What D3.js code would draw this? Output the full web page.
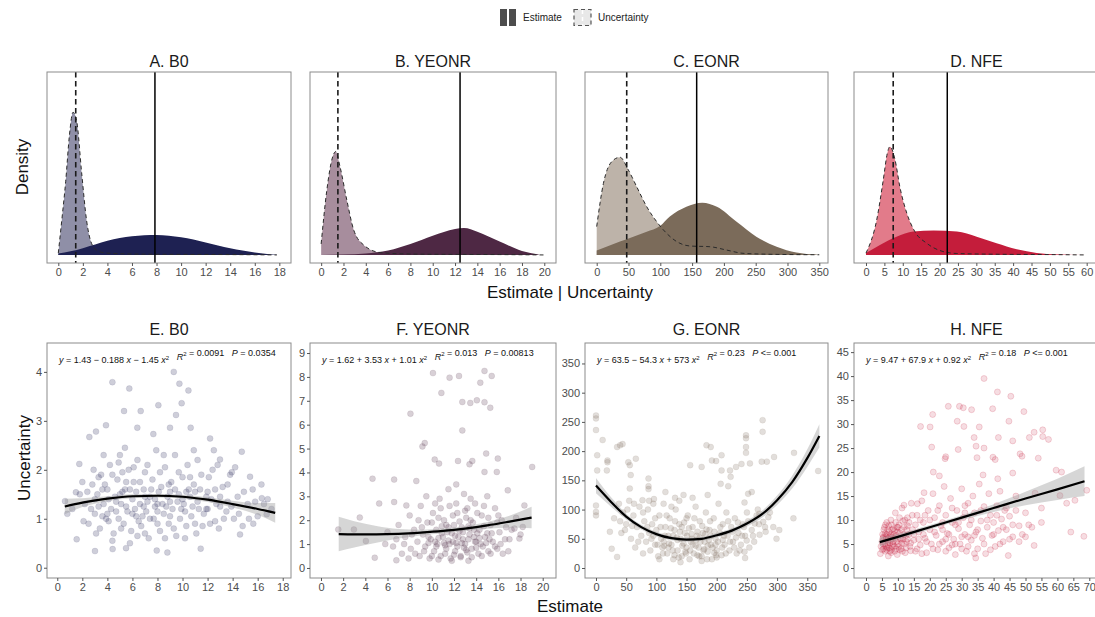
<!DOCTYPE html>
<html>
<head>
<meta charset="utf-8">
<script src="https://cdn.jsdelivr.net/npm/d3@7"></script>
<style>
  body { margin: 0; background: #fff; }
  text { font-family: "Liberation Sans", Arial, Helvetica, sans-serif; }
  .eq { white-space: pre; }
</style>
</head>
<body>
<svg id="chart" width="1095" height="617"></svg>
<script>
// ---- data ----
const titlesTop = ["A. B0", "B. YEONR", "C. EONR", "D. NFE"];
const titlesBottom = ["E. B0", "F. YEONR", "G. EONR", "H. NFE"];
const estColors = ["#1e2152", "#4e2844", "#7b6b5a", "#c41d3b"];
const uncColors = ["#8f8fa7", "#a78d9d", "#bdb3a9", "#e27b8a"];

const xTicks = [
  [0, 2, 4, 6, 8, 10, 12, 14, 16, 18],
  [0, 2, 4, 6, 8, 10, 12, 14, 16, 18, 20],
  [0, 50, 100, 150, 200, 250, 300, 350],
  [0, 5, 10, 15, 20, 25, 30, 35, 40, 45, 50, 55, 60]
];
const xTicksBottom = [
  [0, 2, 4, 6, 8, 10, 12, 14, 16, 18],
  [0, 2, 4, 6, 8, 10, 12, 14, 16, 18, 20],
  [0, 50, 100, 150, 200, 250, 300, 350],
  [0, 5, 10, 15, 20, 25, 30, 35, 40, 45, 50, 55, 60, 65, 70]
];
const yTicksBottom = [
  [0, 1, 2, 3, 4],
  [0, 1, 2, 3, 4, 5, 6, 7, 8, 9],
  [0, 50, 100, 150, 200, 250, 300, 350],
  [0, 5, 10, 15, 20, 25, 30, 35, 40, 45]
];

// density heights, relative to panel height
const estDensA = [[0,0.008],[1,0.02],[2,0.037],[3,0.057],[4,0.077],[5,0.092],[6,0.102],[7,0.108],[8,0.109],[9,0.105],[10,0.097],[11,0.084],[12,0.068],[13,0.052],[14,0.037],[15,0.024],[16,0.013],[17,0.005],[17.8,0.001]];
const uncDensA = [[0,0.01],[0.3,0.2],[0.6,0.4],[0.9,0.65],[1.2,0.78],[1.5,0.73],[1.9,0.45],[2.3,0.19],[2.8,0.05],[3.3,0.02],[4,0.01],[6,0.005],[10,0.003],[14,0.002],[17.8,0.0]];
const estDensB = [[0,0],[2,0.002],[4,0.008],[6,0.024],[8,0.06],[10,0.105],[12,0.142],[12.8,0.147],[14,0.127],[16,0.073],[18,0.022],[19.5,0.003]];
const uncDensB = [[0,0.06],[0.5,0.35],[1.0,0.53],[1.3,0.565],[1.7,0.48],[2.3,0.3],[2.9,0.14],[3.8,0.055],[5.3,0.013],[8,0.005],[12,0.003],[16,0.002],[20,0]];
const estDensC = [[0,0.024],[36.6,0.073],[78.6,0.127],[99.5,0.158],[115,0.21],[141,0.264],[166,0.286],[189,0.264],[220,0.182],[251,0.1],[283,0.045],[314,0.013],[346,0.002]];
const uncDensC = [[0,0.155],[10.5,0.39],[23.6,0.51],[36.6,0.534],[49.7,0.465],[62.9,0.373],[78.6,0.264],[94.3,0.182],[110,0.118],[125.8,0.073],[146.7,0.049],[178,0.045],[204,0.027],[230,0.009],[270,0.004],[350,0.001]];
const estDensD = [[0,0.01],[3.8,0.055],[8.3,0.1],[12.9,0.128],[18.4,0.133],[24.7,0.128],[30.1,0.1],[35.5,0.064],[41,0.031],[46.4,0.011],[51.9,0.003],[56,0]];
const uncDensD = [[0,0.01],[2.9,0.19],[4.7,0.41],[5.8,0.556],[6.5,0.592],[7.9,0.52],[9.2,0.373],[11.1,0.228],[13.3,0.127],[16.5,0.064],[20.1,0.024],[24.7,0.008],[35,0.004],[50,0.002],[60,0]];

const estDens = [estDensA, estDensB, estDensC, estDensD];
const uncDens = [uncDensA, uncDensB, uncDensC, uncDensD];
const uncMeans = [1.42, 1.5, 47.2, 7.4];
const estMeans = [7.87, 12.45, 157.2, 22.1];

// scatter: [estimate, uncertainty]
const ptsE = [[9.3,4.0],[4.4,3.79],[5.75,3.66],[9.75,3.76],[10.47,3.62],[9.93,3.36],[8.07,3.32],[5.33,3.2],[6.66,3.2],[9.48,3.12],[3.89,2.91],[6.39,2.86],[9.0,2.86],[10.65,2.86],[3.09,2.78],[2.56,2.67],[7.67,2.73],[12.2,2.64],[14.73,2.37],[12.99,2.21],[1.76,2.12],[13.93,1.95],[15.39,1.86],[16.33,1.42],[16.72,1.09],[1.49,1.54],[0.62,1.36],[1.55,0.58],[3.01,0.34],[4.42,0.38],[5.49,0.4],[7.94,0.35],[8.79,0.31],[11.45,0.39],[14.59,0.68],[15.65,0.9],
  [2.2,1.3],[2.5,0.9],[2.8,1.7],[3.0,1.1],[3.2,1.5],[3.4,0.8],[3.5,1.9],[3.7,1.3],[3.9,1.0],[4.0,1.6],[4.2,2.1],[4.3,1.2],[4.5,0.7],[4.6,1.45],[4.8,1.8],[4.9,1.0],[5.0,2.3],[5.1,1.3],[5.3,0.9],[5.4,1.6],[5.6,1.15],[5.7,2.0],[5.9,0.75],[6.0,1.4],[6.1,1.75],[6.3,1.05],[6.4,2.2],[6.6,1.3],[6.7,0.85],[6.9,1.6],[7.0,1.95],[7.1,1.15],[7.3,0.6],[7.4,1.45],[7.6,1.8],[7.7,1.0],[7.9,2.4],[8.0,1.3],[8.2,0.75],[8.3,1.65],[8.5,1.1],[8.6,2.05],[8.8,1.45],[8.9,0.9],[9.1,1.75],[9.2,1.2],[9.4,2.3],[9.5,0.65],[9.7,1.5],[9.8,1.0],[10.0,1.85],[10.1,1.3],[10.3,0.85],[10.4,2.1],[10.6,1.45],[10.7,1.05],[10.9,1.7],[11.1,0.7],[11.2,1.35],[11.5,1.9],[11.7,1.1],[12.0,1.55],[12.2,0.9],[12.4,2.0],[12.7,1.3],[12.9,0.8],[13.2,1.65],[13.5,1.15],[13.8,1.9],[14.1,1.0],[14.4,1.45],[14.8,0.85],[15.2,1.3],[15.6,1.6],[16.0,1.05],[16.5,1.3],[17.1,1.2],[1.2,1.2],[1.8,1.5],[0.8,1.1],
  [3.3,1.25],[4.1,0.95],[5.2,1.55],[6.2,1.2],[7.2,1.35],[8.1,1.55],[8.7,1.25],[9.6,1.35],[10.5,1.6],[11.3,1.2],[4.7,1.35],[6.8,1.05],[7.8,1.25],[9.0,1.05],[10.2,1.15],[5.5,1.75],[3.6,1.6],[11.9,1.45],[12.6,1.6],[13.6,1.35],
  [2.1,0.95],[2.4,1.55],[2.7,1.2],[2.9,2.0],[3.1,0.7],[3.3,1.85],[3.6,1.05],[3.8,1.7],[4.1,1.4],[4.4,1.9],[4.4,0.55],[4.7,1.15],[4.9,2.15],[5.1,0.8],[5.2,1.95],[5.5,1.25],[5.8,1.6],[5.8,0.5],[6.1,2.05],[6.3,1.55],[6.5,0.95],[6.6,1.75],[6.9,1.25],[7.0,0.7],[7.2,2.1],[7.4,1.0],[7.5,1.6],[7.8,1.4],[8.0,0.9],[8.2,1.95],[8.4,1.3],[8.6,0.6],[8.9,1.7],[9.0,1.35],[9.3,0.8],[9.4,1.6],[9.7,1.95],[9.9,1.2],[10.2,0.6],[10.3,1.55],[10.6,1.85],[10.8,1.25],[11.0,0.9],[11.2,2.2],[11.4,1.6],[11.6,0.85],[11.9,1.2],[12.1,1.85],[12.3,1.4],[12.6,0.95],[12.8,2.1],[13.0,1.45],[13.3,1.0],[13.6,1.7],[13.9,1.25],[14.2,2.05],[14.5,1.1],[14.9,1.55],[15.3,1.0],[15.8,1.35],[16.3,1.7],[16.8,1.4],[2.0,1.75],[3.0,1.4],[4.0,1.1],[5.0,1.5],[6.0,1.1],[7.0,1.45],[8.0,1.15],[9.0,1.55],[10.0,1.4],[11.0,1.55],[12.0,1.2],[13.0,1.25],[6.4,0.65],[8.5,2.3],[10.9,2.4],[5.4,2.45],[3.7,2.3],[12.5,2.4]];

const ptsF = [[10.1,8.16],[11.6,7.97],[12.45,8.04],[14.75,8.25],[15.4,8.04],[14.37,7.76],[10.86,7.33],[12.75,6.95],[13.47,6.91],[14.06,7.02],[14.75,6.94],[15.27,6.71],[8.07,6.46],[12.75,5.76],[9.36,5.23],[9.15,5.09],[10.26,4.54],[10.65,4.37],[12.36,4.48],[13.65,4.48],[13.4,4.34],[14.9,4.79],[15.95,4.58],[14.75,4.02],[15.86,4.02],[19.05,4.23],[4.65,3.74],[6.6,3.7],[8.6,3.64],[5.25,2.7],[6.6,2.76],[7.7,2.62],[3.5,2.11],[1.56,1.61],[2.97,1.61],[4.05,1.13],[4.85,0.43],[6.8,0.32],[18.2,1.72],[18.35,2.62],[16.85,3.25],[17.45,1.65],[17.9,1.23],
  [6.0,1.5],[6.5,0.9],[7.0,1.8],[7.3,0.6],[7.6,1.3],[8.0,2.2],[8.1,0.8],[8.4,1.6],[8.7,1.1],[8.9,0.5],[9.0,2.6],[9.2,1.4],[9.4,0.9],[9.6,1.9],[9.8,0.4],[9.9,1.2],[10.1,2.3],[10.2,0.7],[10.4,1.6],[10.5,1.0],[10.7,2.9],[10.8,0.5],[11.0,1.3],[11.1,2.0],[11.3,0.8],[11.4,1.5],[11.6,2.6],[11.7,0.4],[11.9,1.1],[12.0,1.8],[12.1,0.7],[12.3,2.3],[12.4,1.3],[12.6,0.5],[12.7,1.7],[12.9,3.1],[13.0,1.0],[13.1,2.1],[13.3,0.3],[13.4,1.4],[13.6,0.8],[13.7,1.9],[13.9,2.7],[14.0,1.1],[14.2,0.6],[14.3,1.6],[14.5,2.2],[14.6,0.9],[14.8,1.3],[15.0,3.0],[15.1,0.7],[15.3,1.8],[15.5,1.1],[15.7,2.5],[15.9,0.8],[16.1,1.5],[16.3,2.0],[16.6,1.2],[16.9,0.7],[17.2,1.6],[17.6,2.1],[18.0,1.4],[11.5,3.3],[12.2,3.5],[10.3,2.7],[13.5,2.9],[9.5,3.0],
  [10.6,1.25],[11.2,0.95],[11.8,1.45],[12.2,1.05],[12.8,1.2],[13.2,0.65],[13.8,1.3],[14.4,1.0],[10.9,1.75],[12.5,1.55],[13.3,1.75],[14.1,1.45],[11.5,1.15],[12.9,0.85],[9.7,1.05],[15.2,1.2],
  [8.5,0.6],[9.1,1.7],[9.3,0.7],[9.7,1.3],[10.0,0.5],[10.0,1.9],[10.3,1.1],[10.6,0.35],[10.6,2.1],[10.9,1.45],[11.2,0.6],[11.3,1.8],[11.6,1.0],[11.8,0.3],[11.9,2.2],[12.1,1.35],[12.3,0.9],[12.5,1.95],[12.6,0.45],[12.8,1.5],[13.0,2.4],[13.1,0.75],[13.3,1.2],[13.5,2.0],[13.6,0.45],[13.8,1.6],[14.0,0.85],[14.1,2.3],[14.3,1.25],[14.5,0.5],[14.7,1.75],[14.9,1.05],[15.1,2.1],[15.3,0.6],[15.4,1.45],[15.7,0.9],[15.9,1.9],[16.2,1.0],[16.4,0.6],[16.7,1.7],[17.0,1.2],[7.5,1.0],[8.2,1.4],[8.8,2.0],[6.8,1.2],[5.8,1.0],[7.9,0.4],[10.8,2.5],[12.2,2.7],[13.2,2.5],[14.7,2.6],[11.1,1.05],[12.0,0.55],[13.9,1.1],[12.7,1.05],[11.5,1.7],[13.4,1.65],[10.4,0.9],[15.0,1.45],[16.0,2.2]];

const ptsG = [[0,261],[0,256],[0,236],[2,193],[2,167],[0,107],[0,96],[0,90],[11,219],[18,167],[19,184],[19,181],[23,62],[26,33],[35,19],[35,207],[40,210],[44,212],[53.5,181],[56,176],[57.5,159],[66,187],[56,136],[77,116],[87,153],[87,140],[87,135],[95,110],[131,120],[156,176],[175,173],[183,210],[190,207],[192,184],[199,183],[208,193],[208,167],[222,167],[223,156],[219,140],[206.5,144],[232,173],[241,178],[248.5,227],[248.5,222],[248.5,207],[248.5,197],[255,179],[258,130],[252,127],[246,112],[249.6,47],[247,17],[276,253],[276,233],[274.5,182],[283,182],[295,190],[303.6,65],[299,50],[327,85],[328,197],[368,166],[270.6,93],[277,79],[285.5,87],[293.7,70],[263,76],[281,62],[271,57],
  [30,85],[38,110],[42,60],[45,95],[50,75],[55,115],[58,50],[62,90],[65,35],[68,70],[72,105],[75,55],[78,25],[80,80],[83,45],[86,100],[88,60],[90,30],[93,75],[96,118],[98,40],[100,65],[103,20],[105,90],[108,50],[110,35],[112,110],[115,70],[118,25],[120,55],[122,85],[125,40],[128,15],[130,65],[132,100],[135,30],[138,75],[140,50],[142,20],[145,125],[147,60],[150,35],[152,90],[155,15],[157,45],[160,70],[162,25],[165,105],[167,55],[170,35],[172,80],[175,20],[177,60],[180,45],[182,95],[185,28],[188,65],[190,40],[192,15],[195,85],[198,50],[200,30],[203,110],[205,60],[208,22],[210,75],[213,40],[216,95],[218,55],[221,30],[224,70],[227,45],[230,85],[233,25],[236,60],[240,40],[243,75],[247,55],[250,95],[254,35],[258,65],[262,45],[266,90],[270,75],[115,130],[160,120],[138,115],[185,125],[105,15],[140,10],[175,12],[200,18],[125,105],[95,55],[150,85],
  [120,35],[135,48],[148,28],[160,40],[172,52],[185,38],[196,26],[210,48],[145,42],[168,22],[130,22],[178,30],[190,55],[112,45],[158,58],
  [85,70],[92,50],[98,85],[102,40],[107,70],[111,25],[114,55],[117,90],[121,42],[124,68],[127,30],[131,80],[134,52],[137,18],[139,62],[143,38],[146,78],[149,25],[151,55],[154,68],[156,30],[159,50],[163,85],[165,38],[168,62],[171,20],[173,45],[176,72],[179,32],[181,58],[184,15],[187,48],[189,80],[193,35],[196,62],[199,22],[202,45],[206,70],[209,35],[212,55],[215,25],[219,80],[222,45],[226,62],[229,35],[232,52],[235,78],[238,30],[242,55],[245,70],[70,45],[60,72],[52,100],[48,65],[40,80],[78,95],[63,110],[88,115],[252,80],[260,55],[268,100],[280,70],[288,95],[246,28],[128,55],[142,70],[166,48],[183,66],[198,40],[113,38]];

const ptsH = [[37,39.5],[41.2,36.7],[45.4,35.8],[49.5,32.6],[39.7,33.2],[29.3,33.7],[30.5,33.4],[33.1,33],[25.8,33.7],[20.9,32],[17.1,29.5],[20.1,29.4],[30.7,29.5],[35.5,29.4],[28.6,30.6],[44.8,30.6],[33.9,27.2],[41.5,27.2],[46,26.5],[51.2,27.2],[52.7,28.3],[55.4,28.8],[55.4,27.4],[57.2,26.8],[48.3,23.8],[48.9,23.3],[54,22.9],[34.5,25.4],[34.8,23],[37,25],[20.6,25.2],[24.8,22.8],[25,23.2],[28.9,24.7],[39.8,23.1],[40.5,22.6],[59.6,20.4],[61.3,20],[60.8,15.1],[62.9,13.5],[65.5,14.1],[69.2,16.2],[64.2,7.5],[68.3,6.6],[52.7,4.7],[44.6,2.6],[34.4,2.1],[21.1,20],[23,19.2],[18.2,15.7],[16.1,13.4],[11.9,13.1],[36.7,19.4],[41.3,18.6],[46,19.8],[47,15.0],[53,15.6],[55,12.5],[52,8.5],[55,9.5],[50,6.5],[48,5.5],
  [4.5,3],[5,5.5],[5.2,7],[5.5,4],[5.8,8.5],[6,3.5],[6.3,6],[6.5,9.5],[6.8,4.8],[7,2.5],[7.2,7.5],[7.5,5.2],[7.8,10],[8,3.8],[8.3,6.5],[8.6,8.2],[8.9,4.5],[9.2,11.5],[9.5,6.8],[9.8,2.8],[10,5],[10.3,9],[10.6,7.3],[11,4],[11.3,12.5],[11.6,6],[12,8.5],[12.3,3.2],[12.7,5.5],[13,10.5],[13.4,7],[13.8,4.5],[14.2,13.5],[14.6,8],[15,5.8],[15.5,3.5],[16,11],[16.5,7.5],[17,4.8],[17.5,14],[18,9.5],[18.5,6.2],[19,3.2],[19.5,12],[20,8],[20.5,5],[21,15.5],[21.5,10.5],[22,6.8],[22.5,3.8],[23,13],[23.5,8.8],[24,5.5],[24.5,17],[25,11],[25.5,7.2],[26,4.2],[26.5,14.5],[27,9.5],[27.5,6],[28,2.8],[28.5,12],[29,8.2],[29.5,5],[30,16.5],[30.5,10.5],[31,7],[31.5,3.5],[32,13.5],[32.5,9],[33,5.8],[33.5,15],[34,11.5],[34.5,7.5],[35,4],[35.5,17.5],[36,9.8],[36.5,6.2],[37,12.8],[37.5,3],[38,8.5],[38.5,15.5],[39,11],[39.5,6.8],[40,9.5],[40.5,4.5],[41,13],[41.5,7.8],[42,16],[42.5,10.2],[43,5.5],[43.5,12],[44,8],[45,10.8],[46,6.5],[47,12],[48,8.8],[49,7],[50,11.5],[51,9],[9,7.8],[7,6.2],[6,7.2],[8,9],[10.5,3.8],[12.5,6.8],[14,5.2],[11.5,9.8],[13,8.8],
  [5.5,6.5],[6.8,8],[7.5,3.5],[8.5,5.5],[9.5,4],[10.8,6],[12,5],[6.2,4.5],[7.8,7],[9.8,8.5],[25,6],[27,4.8],[30,6.5],[32,4.5],[28,9],[24,8],[34,6.8],[31,11.5],
  [4.7,4.5],[5.1,3.8],[5.3,6.2],[5.6,8],[5.9,5],[6.1,9],[6.4,3.8],[6.6,7],[6.9,5.6],[7.1,8.8],[7.3,4.2],[7.6,6.6],[7.9,3.2],[8.1,8],[8.4,5],[8.7,7],[9,3.5],[9.3,9.5],[9.6,5.5],[9.9,7.5],[10.2,4.5],[10.5,10.5],[10.8,6.2],[11.1,8],[11.4,3.5],[11.8,7],[12.2,10],[12.6,4.2],[13,6],[13.5,9.5],[14,3.6],[14.5,11],[15,7],[15.5,9],[16,4],[16.5,6],[17,10],[17.5,3],[18,7],[18.5,11],[19,5.5],[20,10],[21,4],[21.5,7.5],[22.5,12],[23,5],[24,9.5],[25,3.5],[26,7],[27,12.5],[28,5],[29,9.5],[30,4],[31,13],[32,6.5],[33,10],[34,3],[35,8],[36,12],[37,5],[38,10],[39,3.8],[40,7],[41,11],[42,5],[43,8.5],[44,12.5],[45,6],[46,9],[7.7,5.8],[6.7,4.2],[8.2,4.5],[9.1,6.2],[10,8.5],[11.2,5.2],[12.8,8],[5.4,5],[6.2,6.6]];

const scatters = [ptsE, ptsF, ptsG, ptsH];

// fitted quadratic and its band: [x, fit, half-width]
const fitE = [[0.6,1.25,0.16],[2,1.33,0.09],[4,1.41,0.05],[6,1.46,0.04],[8,1.47,0.035],[10,1.45,0.04],[12,1.39,0.05],[14,1.3,0.07],[16,1.2,0.12],[17.4,1.12,0.2]];
const fitF = [[1.6,1.42,0.72],[3,1.41,0.55],[5,1.41,0.35],[7,1.43,0.2],[9,1.48,0.12],[11,1.55,0.1],[13,1.65,0.1],[15,1.78,0.14],[17,1.94,0.25],[19,2.11,0.45]];
const fitG = [[0,141,13],[25,113,8],[50,88,5],[75,70,4],[100,58,4],[125,51,3.5],[150,48.6,3.5],[175,50,3.5],[200,56,4],[225,64,4],[250,76,5],[275,92,6],[300,116,8],[325,147,11],[350,188,15],[370,226,20]];
const fitH = [[4.3,5.4,0.9],[10,6.5,0.6],[20,8.5,0.45],[30,10.5,0.5],[40,12.5,0.8],[50,14.5,1.4],[60,16.4,2.2],[68.5,18.1,3.1]];
const fits = [fitE, fitF, fitG, fitH];

const equations = [
  "y = 1.43 \u2212 0.188 x \u2212 1.45 x^2   R^2 = 0.0091   P = 0.0354",
  "y = 1.62 + 3.53 x + 1.01 x^2   R^2 = 0.013   P = 0.00813",
  "y = 63.5 \u2212 54.3 x + 573 x^2   R^2 = 0.23   P <= 0.001",
  "y = 9.47 + 67.9 x + 0.92 x^2   R^2 = 0.18   P <= 0.001"
];

// ---- layout ----
const svg = d3.select("#chart");
const lefts = [47, 310, 585, 854];
const widths = [244, 246, 243, 245];
const topY = [72, 263], botY = [343, 578];
const xDomTop = [[-0.92, 18.95], [-1.0, 21.05], [-18.4, 363.7], [-3.26, 63.35]];
const xDomBot = [[-0.82, 18.66], [-0.99, 21.2], [-18.2, 384.3], [-3.76, 73.04]];
const yDomBot = [[-0.21, 4.59], [-0.42, 9.42], [-17.1, 385], [-2.08, 46.9]];
const tickCol = "#4d4d4d", borderCol = "#8c8c8c";
const fmt = d3.format("~g");

function styleAxis(g) {
  g.select(".domain").remove();
  g.selectAll(".tick line").attr("stroke", "#555");
  g.selectAll(".tick text").attr("fill", tickCol).style("font-size", "11px");
}

const defs = svg.append("defs");

// ---- top row: densities ----
titlesTop.forEach((t, i) => {
  const x = d3.scaleLinear().domain(xDomTop[i]).range([lefts[i], lefts[i] + widths[i]]);
  const y = d3.scaleLinear().domain([-0.044, 1]).range([topY[1], topY[0]]);
  const g = svg.append("g");

  defs.append("clipPath").attr("id", "clipT" + i)
    .append("rect").attr("x", lefts[i]).attr("y", topY[0])
    .attr("width", widths[i]).attr("height", topY[1] - topY[0]);
  const inner = g.append("g").attr("clip-path", `url(#clipT${i})`);

  const area = d3.area().x(d => x(d[0])).y0(y(0)).y1(d => y(d[1])).curve(d3.curveMonotoneX);
  const line = d3.line().x(d => x(d[0])).y(d => y(d[1])).curve(d3.curveMonotoneX);

  inner.append("path").datum(uncDens[i]).attr("d", area).attr("fill", uncColors[i]);
  inner.append("path").datum(estDens[i]).attr("d", area).attr("fill", estColors[i]);
  inner.append("path").datum(uncDens[i]).attr("d", line)
    .attr("fill", "none").attr("stroke", "#2b2b2b").attr("stroke-width", 1)
    .attr("stroke-dasharray", "4,3");

  inner.append("line").attr("x1", x(uncMeans[i])).attr("x2", x(uncMeans[i]))
    .attr("y1", topY[0]).attr("y2", topY[1])
    .attr("stroke", "#1a1a1a").attr("stroke-width", 1.6).attr("stroke-dasharray", "5.5,3.5");
  inner.append("line").attr("x1", x(estMeans[i])).attr("x2", x(estMeans[i]))
    .attr("y1", topY[0]).attr("y2", topY[1])
    .attr("stroke", "#000").attr("stroke-width", 1.5);

  g.append("rect").attr("x", lefts[i]).attr("y", topY[0])
    .attr("width", widths[i]).attr("height", topY[1] - topY[0])
    .attr("fill", "none").attr("stroke", borderCol).attr("stroke-width", 1);

  g.append("g").attr("transform", `translate(0,${topY[1]})`)
    .call(d3.axisBottom(x).tickValues(xTicks[i]).tickFormat(fmt).tickSize(3).tickPadding(2))
    .call(styleAxis);

  g.append("text").attr("x", lefts[i] + widths[i] / 2).attr("y", 67)
    .attr("text-anchor", "middle").style("font-size", "16px").attr("fill", "#1a1a1a").text(t);
});

// ---- bottom row: scatter + quadratic fit ----
function drawEquation(sel, str) {
  const parts = str.split(/(\^2|\b[yxRP]\b)/).filter(s => s !== "");
  parts.forEach(p => {
    if (p === "^2") {
      sel.append("tspan").attr("dy", -3.5).style("font-size", "6px").text("2");
      sel.append("tspan").attr("dy", 3.5).text("");
    } else if (/^[yxRP]$/.test(p)) {
      sel.append("tspan").style("font-style", "italic").text(p);
    } else {
      sel.append("tspan").text(p);
    }
  });
}

titlesBottom.forEach((t, i) => {
  const x = d3.scaleLinear().domain(xDomBot[i]).range([lefts[i], lefts[i] + widths[i]]);
  const y = d3.scaleLinear().domain(yDomBot[i]).range([botY[1], botY[0]]);
  const g = svg.append("g");

  defs.append("clipPath").attr("id", "clipB" + i)
    .append("rect").attr("x", lefts[i]).attr("y", botY[0])
    .attr("width", widths[i]).attr("height", botY[1] - botY[0]);
  const inner = g.append("g").attr("clip-path", `url(#clipB${i})`);

  inner.append("g").selectAll("circle").data(scatters[i]).join("circle")
    .attr("cx", d => x(d[0])).attr("cy", d => y(d[1])).attr("r", 3)
    .attr("fill", estColors[i]).attr("fill-opacity", i === 3 ? 0.15 : 0.22)
    .attr("stroke", estColors[i]).attr("stroke-opacity", i === 3 ? 0.22 : 0.12)
    .attr("stroke-width", 0.8);

  const band = d3.area().x(d => x(d[0])).y0(d => y(d[1] - d[2])).y1(d => y(d[1] + d[2]))
    .curve(d3.curveMonotoneX);
  const fl = d3.line().x(d => x(d[0])).y(d => y(d[1])).curve(d3.curveMonotoneX);
  inner.append("path").datum(fits[i]).attr("d", band).attr("fill", "#999").attr("fill-opacity", 0.4);
  inner.append("path").datum(fits[i]).attr("d", fl)
    .attr("fill", "none").attr("stroke", "#000").attr("stroke-width", 2.2);

  const eq = g.append("text").attr("class", "eq").attr("x", lefts[i] + 12).attr("y", 363)
    .style("font-size", "9px").attr("fill", "#111");
  drawEquation(eq, equations[i]);

  g.append("rect").attr("x", lefts[i]).attr("y", botY[0])
    .attr("width", widths[i]).attr("height", botY[1] - botY[0])
    .attr("fill", "none").attr("stroke", borderCol).attr("stroke-width", 1);

  g.append("g").attr("transform", `translate(0,${botY[1]})`)
    .call(d3.axisBottom(x).tickValues(xTicksBottom[i]).tickFormat(fmt).tickSize(3).tickPadding(2))
    .call(styleAxis);
  g.append("g").attr("transform", `translate(${lefts[i]},0)`)
    .call(d3.axisLeft(y).tickValues(yTicksBottom[i]).tickFormat(fmt).tickSize(3).tickPadding(2))
    .call(styleAxis);

  g.append("text").attr("x", lefts[i] + widths[i] / 2).attr("y", 335)
    .attr("text-anchor", "middle").style("font-size", "16px").attr("fill", "#1a1a1a").text(t);
});

// ---- axis titles ----
svg.append("text").attr("x", 570).attr("y", 298).attr("text-anchor", "middle")
  .style("font-size", "17px").attr("fill", "#111").text("Estimate | Uncertainty");
svg.append("text").attr("x", 570).attr("y", 612).attr("text-anchor", "middle")
  .style("font-size", "17px").attr("fill", "#111").text("Estimate");
svg.append("text").attr("transform", "translate(28,167) rotate(-90)").attr("text-anchor", "middle")
  .style("font-size", "17px").attr("fill", "#111").text("Density");
svg.append("text").attr("transform", "translate(30,458) rotate(-90)").attr("text-anchor", "middle")
  .style("font-size", "17px").attr("fill", "#111").text("Uncertainty");

// ---- legend ----
const lg = svg.append("g");
lg.append("rect").attr("x", 500).attr("y", 9).attr("width", 16).attr("height", 17).attr("fill", "#4d4d4d");
lg.append("line").attr("x1", 508).attr("x2", 508).attr("y1", 9).attr("y2", 26)
  .attr("stroke", "#fff").attr("stroke-width", 2);
lg.append("text").attr("x", 523).attr("y", 21).style("font-size", "10px").attr("fill", "#222").text("Estimate");
lg.append("rect").attr("x", 574).attr("y", 9.5).attr("width", 17).attr("height", 16)
  .attr("fill", "#e8e8e8").attr("stroke", "#555").attr("stroke-width", 1.2).attr("stroke-dasharray", "4,3");
lg.append("line").attr("x1", 582.5).attr("x2", 582.5).attr("y1", 10).attr("y2", 25)
  .attr("stroke", "#fff").attr("stroke-width", 1.5).attr("stroke-dasharray", "4,3");
lg.append("text").attr("x", 598).attr("y", 21).style("font-size", "10px").attr("fill", "#222").text("Uncertainty");
</script>
</body>
</html>
